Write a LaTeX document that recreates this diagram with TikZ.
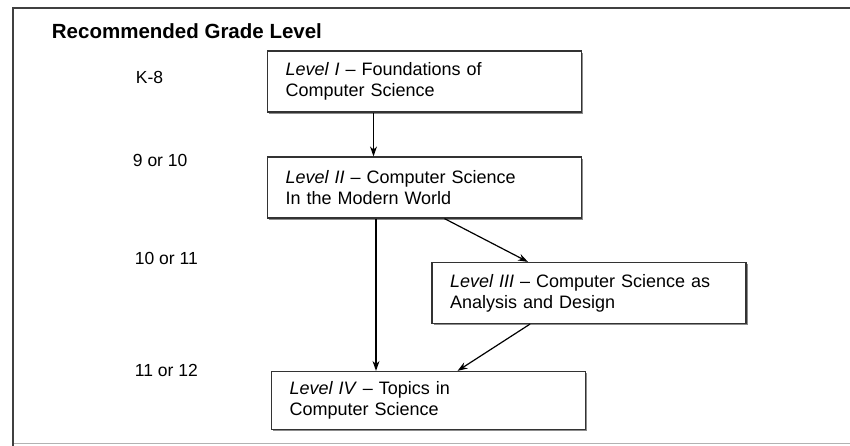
\documentclass[tikz,border=0pt]{standalone}
\usepackage{fontspec}
\setmainfont{Liberation Sans}
\usepackage{tikz}
\usetikzlibrary{positioning,arrows.meta,shadows}

\tikzset{
  levelbox/.style={draw=black!80, line width=1.2pt, fill=white, rectangle,
    text width=278pt, inner xsep=18pt, minimum height=61pt, align=left,
    font=\fontsize{18}{21}\selectfont,
    drop shadow={shadow xshift=1.6pt, shadow yshift=-1.6pt, fill=black!45, opacity=1}},
  grade/.style={anchor=west, font=\fontsize{17.5}{20}\selectfont},
}

\begin{document}
\begin{tikzpicture}[x=1pt, y=-1pt, >={Stealth[length=10pt,width=7pt]}, line width=1.2pt, on grid]
\useasboundingbox (0,0) rectangle (850,446);
% frame, open on the right
\draw[black!30, line width=1pt] (14,443) -- (850,443);
\draw[black!75, line width=2pt] (850,8) -- (13,8) -- (13,446);
\node[anchor=west, font=\bfseries\fontsize{20.5}{24}\selectfont] (title) at (48,31) {Recommended Grade Level};

\node[grade] (g_{k8})  at (132,77)  {K-8};
\node[grade] (g_{910}) at (129,160) {9 or 10};
\node[grade] (g_{1011}) at (131,258) {10 or 11};
\node[grade] (g_{1112}) at (131,370) {11 or 12};

\node[levelbox] (level_{I})   at (424.5,81.5) {\textit{Level I} -- Foundations of\\Computer Science};
\node[levelbox] (level_{II})  [below=106pt of level_{I}] {\textit{Level II} -- Computer Science\\In the Modern World};
\node[levelbox] (level_{III}) [below right=105.5pt and 164.5pt of level_{II}] {\textit{Level III} -- Computer Science as\\Analysis and Design};
\node[levelbox, minimum height=58pt] (level_{IV}) [below left=107.5pt and 160.5pt of level_{III}] {\textit{Level IV} -- Topics in\\Computer Science};

\draw[->] ([xshift=-51pt]level_{I}.south) -- ([xshift=-51pt]level_{I}.south |- level_{II}.north);
\draw[->] ([xshift=-48.5pt]level_{II}.south) -- ([xshift=-48.5pt]level_{II}.south |- level_{IV}.north);
\draw[->] ([xshift=20pt]level_{II}.south) -- ([xshift=-61pt]level_{III}.north);
\draw[->] ([xshift=-59pt]level_{III}.south) -- ([xshift=29pt]level_{IV}.north);
\end{tikzpicture}
\end{document}
